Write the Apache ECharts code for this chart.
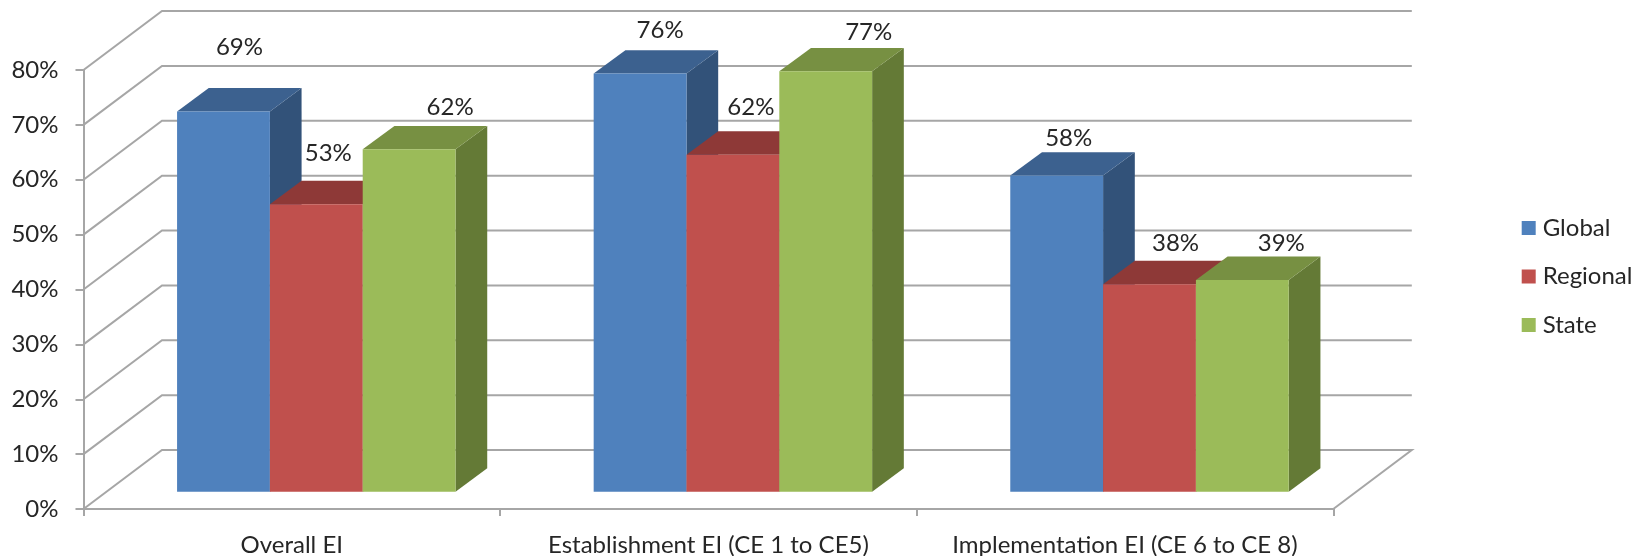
<!DOCTYPE html>
<html>
<head>
<meta charset="utf-8">
<style>html,body{margin:0;padding:0;background:#fff}#c{width:1637px;height:556px}</style>
<script src="https://cdn.jsdelivr.net/npm/echarts@6/dist/echarts.min.js"></script>
</head>
<body>
<div id="c"></div>
<script>
const categories = ['Overall EI', 'Establishment EI (CE 1 to CE5)', 'Implementation EI (CE 6 to CE 8)'];
// bar heights
const globalValues = [69.3, 76.2, 57.6];
const regionalValues = [52.4, 61.4, 37.8];
const stateValues = [62.4, 76.6, 38.6];
// printed data labels
const globalLabels = ['69%', '76%', '58%'];
const regionalLabels = ['53%', '62%', '38%'];
const stateLabels = ['62%', '77%', '39%'];
const tickValues = [0, 10, 20, 30, 40, 50, 60, 70, 80];

const FONT = 'Lato, "Open Sans", sans-serif';
const TEXT = '#262626';
const GRID = '#a6a6a6';
const FONT_SIZE = 24;
const WALL = [78.5, -59];      // depth of the back wall, px
const BOX = [31.7, -23.4];     // depth of a bar, px
const LIFT = [24.5, -17.3];    // bars stand inside the floor
const BAR_SHARE = 0.2228;

// label placement relative to the centre of a bar's front top edge
const labelShiftGlobal = [[16, -64], [20, -43], [12, -37]];
const labelShiftRegional = [[12, -51], [18, -48], [26, -41]];
const labelShiftState = [[41, -42], [43, -39], [39, -37]];

function wallItem(params, api) {
  const cs = params.coordSys;
  const p = api.coord([0, api.value(0)]);
  const x0 = cs.x, x1 = cs.x + cs.width, y = p[1];
  const pts = [[x0, y], [x0 + WALL[0], y + WALL[1]], [x1 + WALL[0], y + WALL[1]]];
  if (api.value(0) === 0) pts.push([x1, y]);
  return {
    type: 'polyline', shape: { points: pts },
    style: { stroke: GRID, lineWidth: 2, fill: null }
  };
}

function barSeries(name, values, labels, index, shifts, front, top, side) {
  return {
    name, type: 'custom', clip: false, z: 3 + index,
    itemStyle: { color: front },
    data: values.map((v, i) => [i, v]),
    encode: { x: 0, y: 1 },
    renderItem(params, api) {
      const cat = api.value(0), v = api.value(1);
      const base = api.coord([cat, 0]), head = api.coord([cat, v]);
      const w = api.size([1, 0])[0] * BAR_SHARE;
      const xL = base[0] + LIFT[0] + (index - 1.5) * w, xR = xL + w;
      const yB = base[1] + LIFT[1], yT = head[1] + LIFT[1];
      const dx = BOX[0], dy = BOX[1];
      const s = shifts[params.dataIndex];
      return {
        type: 'group',
        children: [
          { type: 'polygon', shape: { points: [[xR, yT], [xR + dx, yT + dy], [xR + dx, yB + dy], [xR, yB]] }, style: { fill: side } },
          { type: 'polygon', shape: { points: [[xL, yT], [xR, yT], [xR + dx, yT + dy], [xL + dx, yT + dy]] }, style: { fill: top } },
          { type: 'rect', shape: { x: xL, y: yT, width: w, height: yB - yT }, style: { fill: front } },
          { type: 'text', z2: 50, style: { text: labels[params.dataIndex], x: (xL + xR) / 2 + s[0], y: yT + s[1], align: 'center', verticalAlign: 'middle', fill: TEXT, font: FONT_SIZE + 'px ' + FONT } }
        ]
      };
    }
  };
}

const chart = echarts.init(document.getElementById('c'), null, { renderer: 'canvas' });
chart.setOption({
  animation: false,
  backgroundColor: '#fff',
  grid: { left: 83.5, top: 70, width: 1249.8, height: 439, containLabel: false, outerBoundsMode: 'none' },
  legend: {
    data: ['Global', 'Regional', 'State'],
    orient: 'vertical', left: 1521.7, top: 216, padding: 0,
    icon: 'rect', itemWidth: 14, itemHeight: 14, itemGap: 24.5,
    selectedMode: false,
    textStyle: { color: TEXT, fontFamily: FONT, fontSize: FONT_SIZE, padding: [0, 0, 0, 2] }
  },
  xAxis: {
    type: 'category', data: categories,
    axisLine: { lineStyle: { color: GRID, width: 2 } },
    axisTick: { show: true, length: 7, lineStyle: { color: GRID, width: 2 } },
    axisLabel: { color: TEXT, fontFamily: FONT, fontSize: FONT_SIZE, margin: 24, interval: 0 },
    splitLine: { show: false }
  },
  yAxis: {
    type: 'value', min: 0, max: 80, interval: 10,
    axisLine: { show: true, lineStyle: { color: GRID, width: 2 } },
    axisTick: { show: true, length: 8, lineStyle: { color: GRID, width: 2 } },
    axisLabel: { color: TEXT, fontFamily: FONT, fontSize: FONT_SIZE, margin: 25, padding: [3, 0, 0, 0], formatter: '{value}%' },
    splitLine: { show: false }
  },
  series: [
    { name: 'wall', type: 'custom', clip: false, z: 1, silent: true, data: tickValues.map(v => [v]), encode: { y: 0 }, renderItem: wallItem },
    barSeries('Global', globalValues, globalLabels, 0, labelShiftGlobal, '#4f81bd', '#3c618f', '#325279'),
    barSeries('Regional', regionalValues, regionalLabels, 1, labelShiftRegional, '#c0504d', '#8e3937', '#7d3230'),
    barSeries('State', stateValues, stateLabels, 2, labelShiftState, '#9bbb59', '#779042', '#647a36')
  ]
});
</script>
</body>
</html>
